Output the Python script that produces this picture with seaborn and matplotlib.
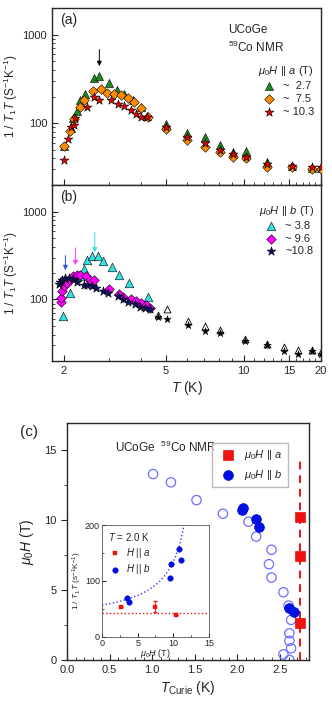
import numpy as np
import pandas as pd
import matplotlib
matplotlib.use("Agg")
import matplotlib.pyplot as plt
from matplotlib.ticker import LogLocator, NullFormatter, FixedLocator, MultipleLocator
import seaborn as sns

# ---------------- data: panel (a) H || a ----------------
Ta_27 = [2.0, 2.125, 2.17, 2.26, 2.31, 2.42, 2.63, 2.75, 2.99, 3.21, 3.43, 3.71, 4.0, 4.2,
         5.0, 6.05, 7.05, 8.1, 9.1, 10.2, 12.3, 15.4, 18.5, 20.0]
Va_27 = [55.6, 88.5, 113, 137, 181, 216, 323, 343, 284, 240, 211, 184, 152, 120,
         97.5, 76.6, 69, 56.6, 47.7, 48.9, 36, 33, 31.5, 31.5]
Ta_75 = [2.0, 2.12, 2.2, 2.31, 2.4, 2.6, 2.78, 2.95, 3.13, 3.33, 3.54, 3.75, 4.0, 4.25,
         5.0, 6.05, 7.05, 8.1, 9.1, 10.2, 12.3, 15.4, 18.5, 20.0]
Va_75 = [55, 82, 111, 152, 181, 231, 245, 221, 216, 207, 193, 174, 150, 118,
         87, 64.4, 54, 47.7, 41.8, 40.8, 32.3, 32, 30.2, 30]
Ta_103 = [2.0, 2.07, 2.13, 2.2, 2.22, 2.47, 2.61, 2.75, 3.04, 3.24, 3.43, 3.65, 3.82, 4.0, 4.2,
          5.0, 6.05, 7.05, 8.1, 9.1, 10.2, 12.3, 15.4, 18.5, 20.0]
Va_103 = [38.4, 67, 91, 95, 113, 152, 198, 184, 184, 163, 155, 140, 128, 118, 118,
          90, 70, 59, 50, 45, 42, 35, 33, 32, 32]
labels_a = ["~  2.7", "~  7.5", "~ 10.3"]

# ---------------- data: panel (b) H || b ----------------
Tb_38 = [1.98, 2.12, 2.31, 2.4, 2.47, 2.57, 2.71, 2.85, 3.09, 3.28, 3.6, 4.25]
Vb_38 = [64.9, 119, 186, 221, 281, 312, 312, 275, 237, 191, 154, 106]
Tb_96 = [1.95, 1.95, 1.96, 2.0, 2.05, 2.12, 2.18, 2.25, 2.32, 2.43, 2.54, 2.62,
         3.0, 3.29, 3.39, 3.66, 3.83, 4.0, 4.19, 4.33]
Vb_96 = [93, 105, 124, 141, 154, 168, 183, 191, 191, 183, 168, 168,
         132, 114, 107, 100, 96, 92, 86, 81]
Tb_108 = [1.91, 1.94, 1.97, 2.02, 2.1, 2.17, 2.25, 2.39, 2.46, 2.57, 2.66, 2.83, 2.96,
          3.24, 3.39, 3.55, 3.77, 3.95, 4.13, 4.33]
Vb_108 = [151, 160, 168, 175, 175, 170, 160, 148, 148, 141, 136, 124, 117,
          109, 100, 93, 88, 83, 81, 79]
Tb_hi = [4.64, 5.06, 6.06, 7.06, 8.1, 10.1, 12.3, 14.3, 16.3, 18.5, 20.0]
Vb_hi_up = [66, 78.7, 57, 50, 45, 36, 31, 29, 27, 27, 25]
Vb_hi_lo = [64, 60.7, 51, 44, 42, 34, 30, 26, 24, 26, 24]
labels_b = ["~ 3.8", "~ 9.6", "~10.8"]

# ---------------- data: panel (c) ----------------
Tc_open = [1.01, 1.22, 1.52, 1.83, 2.13, 2.22, 2.40, 2.37, 2.40, 2.54, 2.60, 2.63,
           2.61, 2.61, 2.63, 2.54, 2.61]
Hc_open = [13.26, 12.67, 11.4, 10.43, 9.86, 8.8, 7.86, 6.83, 5.88, 4.83, 3.88, 2.86,
           1.9, 1.36, 0.83, 0.4, 0.0]
Tc_b = [2.05, 2.07, 2.22, 2.25, 2.60, 2.66]
Hc_b = [10.71, 10.86, 10.07, 9.48, 3.69, 3.4]
Tc_a = [2.735, 2.735, 2.735]
Hc_a = [10.17, 7.38, 2.62]
Tc_line = 2.735

# inset (T = 2.0 K)
Hin_a = [2.66, 7.43, 10.38]
Vin_a = [54, 54, 38.7]
Ein_a = [0, 10, 0]
Hin_b = [3.46, 3.83, 9.54, 9.63, 10.84, 11.03]
Vin_b = [69, 63, 106, 130, 158, 137]
level_a = 42
fit_a, fit_b, fit_Hc = 26.0, 435.0, 14.0

# ---------------- style ----------------
sns.set_style("ticks")
plt.rcParams['font.family'] = ['Liberation Sans', 'DejaVu Sans']
plt.rcParams['mathtext.fontset'] = 'custom'
plt.rcParams['mathtext.rm'] = 'Liberation Sans'
plt.rcParams['mathtext.it'] = 'Liberation Sans:italic'
plt.rcParams['font.size'] = 8
plt.rcParams['axes.linewidth'] = 1.0

fig = plt.figure(figsize=(3.32, 7.03), dpi=100)
axA = fig.add_axes([0.1566, 0.7368, 0.8104, 0.2518])
axB = fig.add_axes([0.1566, 0.4865, 0.8104, 0.2503])
axC = fig.add_axes([0.2018, 0.0612, 0.7289, 0.3371])
axI = fig.add_axes([0.3072, 0.0939, 0.3223, 0.1593])

ylab = "1 / $T_1T$ (S$^{-1}$K$^{-1}$)"

def setup_log(ax, show_x):
    ax.set_xscale('log')
    ax.set_yscale('log')
    ax.set_xlim(1.8, 20)
    ax.set_ylim(20, 2000)
    ax.xaxis.set_major_locator(FixedLocator([2, 5, 10, 15, 20]))
    ax.xaxis.set_minor_locator(FixedLocator([3, 4, 6, 7, 8, 9, 11, 12, 13, 14, 16, 17, 18, 19]))
    ax.xaxis.set_minor_formatter(NullFormatter())
    if show_x:
        ax.set_xticklabels(["2", "5", "10", "15", "20"])
    else:
        ax.set_xticklabels([])
    ax.yaxis.set_major_locator(FixedLocator([100, 1000]))
    ax.set_yticklabels(["100", "1000"])
    ax.yaxis.set_minor_locator(LogLocator(base=10, subs=np.arange(2, 10)))
    ax.yaxis.set_minor_formatter(NullFormatter())
    ax.tick_params(which='both', direction='in', labelsize=8)
    ax.tick_params(which='major', length=4)
    ax.tick_params(which='minor', length=2)

# ---- panel (a)
setup_log(axA, False)
sa = [(Ta_27, Va_27, '^', '#1f8a1f', labels_a[0], 34),
      (Ta_75, Va_75, 'D', '#ff8c00', labels_a[1], 24),
      (Ta_103, Va_103, '*', '#e00000', labels_a[2], 45)]
for T, V, m, c, lab, s in sa:
    df = pd.DataFrame({"T": T, "V": V})
    sns.scatterplot(data=df, x="T", y="V", marker=m, color=c, s=s, edgecolor='black',
                    linewidth=0.4, ax=axA, label=lab, zorder=3)
axA.set_xlabel("")
axA.set_ylabel(ylab, fontsize=8.5)
axA.yaxis.set_label_coords(-0.12, 0.5)
axA.legend(title="$\\mu_0H$ || $a$ (T)", loc='upper right', bbox_to_anchor=(1.0, 0.72),
           frameon=False, fontsize=8, title_fontsize=8, handletextpad=0.3,
           labelspacing=0.25, borderaxespad=0.2)
axA.text(0.03, 0.97, "(a)", transform=axA.transAxes, fontsize=10, va='top')
axA.text(0.655, 0.91, "UCoGe", transform=axA.transAxes, fontsize=8.5, va='top')
axA.text(0.655, 0.82, "$^{59}$Co NMR", transform=axA.transAxes, fontsize=8.5, va='top')
axA.annotate("", xy=(2.75, 410), xytext=(2.75, 730),
             arrowprops=dict(arrowstyle='-|>', color='black', lw=0.7, mutation_scale=7))

# ---- panel (b)
setup_log(axB, True)
sb = [(Tb_38, Vb_38, '^', '#33e0e0', labels_b[0], 38),
      (Tb_96, Vb_96, 'D', '#ff00ff', labels_b[1], 24),
      (Tb_108, Vb_108, '*', '#10106a', labels_b[2], 45)]
for T, V, m, c, lab, s in sb:
    df = pd.DataFrame({"T": T, "V": V})
    sns.scatterplot(data=df, x="T", y="V", marker=m, color=c, s=s, edgecolor='black',
                    linewidth=0.4, ax=axB, label=lab, zorder=3)
dfh = pd.DataFrame({"T": Tb_hi, "up": Vb_hi_up, "lo": Vb_hi_lo})
sns.scatterplot(data=dfh, x="T", y="up", marker='^', facecolor='white', edgecolor='black',
                s=24, linewidth=0.6, ax=axB, zorder=3)
sns.scatterplot(data=dfh, x="T", y="lo", marker='*', color='black', edgecolor='black',
                s=32, linewidth=0.3, ax=axB, zorder=3)
axB.set_ylabel(ylab, fontsize=8.5)
axB.yaxis.set_label_coords(-0.12, 0.5)
axB.set_xlabel("$T$ (K)", fontsize=10, labelpad=2)
axB.legend(title="$\\mu_0H$ || $b$ (T)", loc='upper right', bbox_to_anchor=(1.0, 0.93),
           frameon=False, fontsize=8, title_fontsize=8, handletextpad=0.3,
           labelspacing=0.25, borderaxespad=0.2)
axB.text(0.03, 0.97, "(b)", transform=axB.transAxes, fontsize=10, va='top')
for x, y0, y1, col in [(2.03, 340, 200, '#3050e0'), (2.22, 415, 228, '#ff40ff'),
                       (2.64, 620, 318, '#33e0e0')]:
    axB.annotate("", xy=(x, y1), xytext=(x, y0),
                 arrowprops=dict(arrowstyle='-|>', color=col, lw=0.7, mutation_scale=7))

# ---- panel (c)
axC.set_xlim(0, 2.84)
axC.set_ylim(0, 16.9)
axC.axvline(Tc_line, ymin=0, ymax=14.5 / 16.9, color='#ee1111', ls=(0, (4, 3)), lw=1.4, zorder=1)
dfo = pd.DataFrame({"T": Tc_open, "H": Hc_open})
sns.scatterplot(data=dfo, x="T", y="H", marker='o', facecolor='none', edgecolor='#6f6fff',
                s=45, linewidth=0.9, ax=axC, zorder=2)
dfb = pd.DataFrame({"T": Tc_b, "H": Hc_b})
sns.scatterplot(data=dfb, x="T", y="H", marker='o', color='#0010e0', edgecolor='#0010e0',
                s=50, linewidth=0.5, ax=axC, zorder=3, label="$\\mu_0H$ || $b$")
dfa = pd.DataFrame({"T": Tc_a, "H": Hc_a})
sns.scatterplot(data=dfa, x="T", y="H", marker='s', color='#ee1111', edgecolor='#ee1111',
                s=42, linewidth=0.5, ax=axC, zorder=3, label="$\\mu_0H$ || $a$")
h, l = axC.get_legend_handles_labels()
axC.legend([h[1], h[0]], [l[1], l[0]], loc='upper left', bbox_to_anchor=(0.575, 0.94),
           frameon=True, fancybox=False, edgecolor='#aaaaaa', fontsize=8,
           handletextpad=0.4, labelspacing=0.5, borderpad=0.5)
axC.xaxis.set_minor_locator(MultipleLocator(0.1))
axC.yaxis.set_major_locator(MultipleLocator(5))
axC.yaxis.set_minor_locator(MultipleLocator(2.5))
axC.set_xticks([0, 0.5, 1.0, 1.5, 2.0, 2.5])
axC.set_xticklabels(["0.0", "0.5", "1.0", "1.5", "2.0", "2.5"])
axC.tick_params(axis='x', which='both', direction='in', labelsize=8)
axC.tick_params(axis='y', which='both', direction='out', labelsize=8)
axC.tick_params(which='major', length=4)
axC.tick_params(which='minor', length=2)
axC.set_xlabel("$T_{\\rm Curie}$ (K)", fontsize=10, labelpad=3)
axC.set_ylabel("$\\mu_0H$ (T)", fontsize=10, labelpad=6)
axC.text(0.2, 0.93, "UCoGe  $^{59}$Co NMR", transform=axC.transAxes, fontsize=8.5, va='top')
fig.text(0.06, 0.385, "(c)", fontsize=11, va='center')

# ---- inset
axI.set_xlim(0, 15)
axI.set_ylim(0, 200)
hh = np.linspace(0, 11.6, 100)
axI.plot(hh, fit_a + fit_b / (fit_Hc - hh), ls=':', color='#3a3aff', lw=1.0)
axI.axhline(level_a, ls=':', color='#ee1111', lw=1.0)
dfia = pd.DataFrame({"H": Hin_a, "V": Vin_a})
axI.errorbar(Hin_a, Vin_a, yerr=Ein_a, fmt='none', ecolor='#ee1111', elinewidth=0.6, capsize=1.5)
sns.scatterplot(data=dfia, x="H", y="V", marker='s', color='#ee1111', edgecolor='#ee1111',
                s=12, ax=axI, zorder=3, label="$H$ || $a$")
dfib = pd.DataFrame({"H": Hin_b, "V": Vin_b})
sns.scatterplot(data=dfib, x="H", y="V", marker='o', color='#0010e0', edgecolor='#0010e0',
                s=16, ax=axI, zorder=3, label="$H$ || $b$")
axI.legend(loc='upper left', bbox_to_anchor=(0.02, 0.86), frameon=False, fontsize=7,
           handletextpad=0.6, labelspacing=0.3, borderaxespad=0.1, handlelength=1.2)
axI.text(0.06, 0.95, "$T$ = 2.0 K", transform=axI.transAxes, fontsize=7, va='top')
axI.set_xticks([0, 5, 10, 15])
axI.set_yticks([0, 100, 200])
axI.yaxis.set_minor_locator(MultipleLocator(50))
axI.xaxis.set_minor_locator(MultipleLocator(2.5))
axI.tick_params(which='both', direction='in', labelsize=6.5, pad=1.5)
axI.tick_params(which='major', length=3)
axI.tick_params(which='minor', length=1.5)
axI.set_xlabel("$\\mu_0H$ (T)", fontsize=6.5, labelpad=-1)
axI.set_ylabel("1 / $T_1T$ (s$^{-1}$K$^{-1}$)", fontsize=6, labelpad=1)
for s in axI.spines.values():
    s.set_linewidth(0.6)
    s.set_edgecolor('#555555')

fig.savefig("out.png", dpi=100)
